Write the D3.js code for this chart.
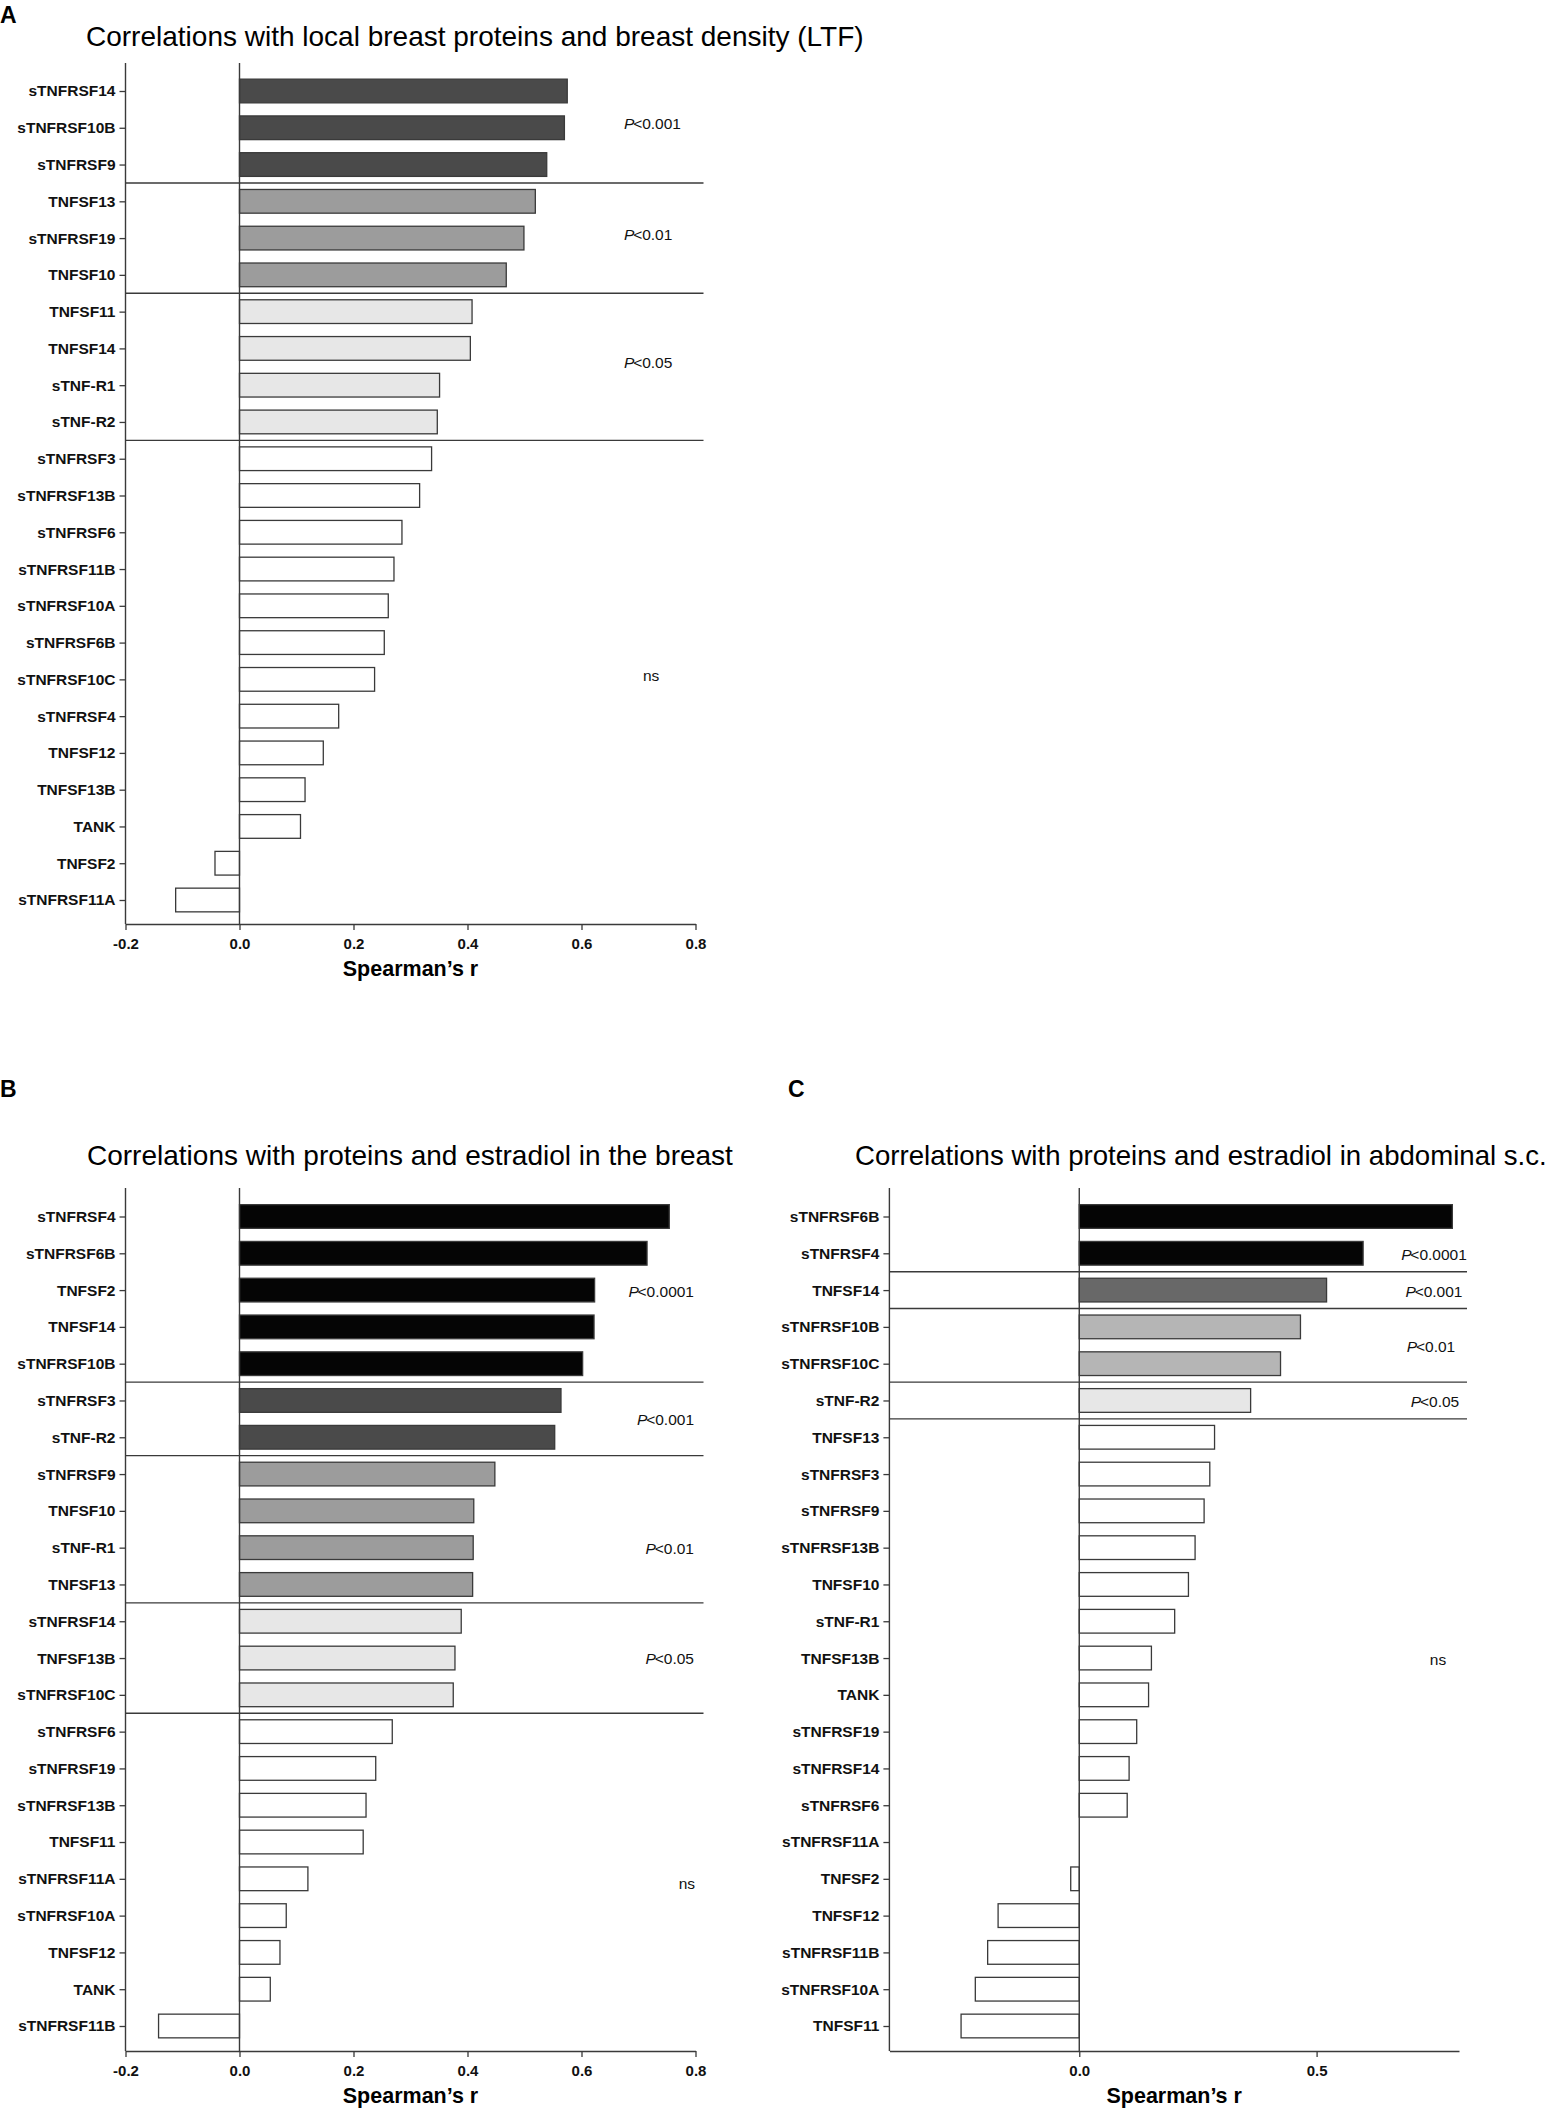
<!DOCTYPE html>
<html>
<head>
<meta charset="utf-8">
<script src="https://cdn.jsdelivr.net/npm/d3@7"></script>
<style>
  body { margin: 0; background: #fff; }
  svg { display: block; font-family: "Liberation Sans", Arial, Helvetica, sans-serif; }
</style>
</head>
<body>
<div id="chart"></div>
<script>
// panel A - local breast proteins vs breast density (LTF)
var namesA = ["sTNFRSF14", "sTNFRSF10B", "sTNFRSF9", "TNFSF13", "sTNFRSF19", "TNFSF10",
    "TNFSF11", "TNFSF14", "sTNF-R1", "sTNF-R2", "sTNFRSF3", "sTNFRSF13B", "sTNFRSF6",
    "sTNFRSF11B", "sTNFRSF10A", "sTNFRSF6B", "sTNFRSF10C", "sTNFRSF4", "TNFSF12",
    "TNFSF13B", "TANK", "TNFSF2", "sTNFRSF11A"];
var valuesA = [0.575, 0.570, 0.539, 0.519, 0.499, 0.468, 0.408, 0.405, 0.351, 0.347,
    0.337, 0.316, 0.285, 0.271, 0.261, 0.254, 0.237, 0.174, 0.147, 0.115, 0.107, -0.043, -0.112];
var groupsA = [3, 3, 4, 13];               // rows per significance group
var fillsA = ["#4a4a4a", "#9c9c9c", "#e7e7e7", "#ffffff"];
var notesA = ["P<0.001", "P<0.01", "P<0.05", "ns"];
var noteRowsA = [1, 4, 7.5, 16];

// panel B - proteins vs estradiol in the breast
var namesB = ["sTNFRSF4", "sTNFRSF6B", "TNFSF2", "TNFSF14", "sTNFRSF10B", "sTNFRSF3",
    "sTNF-R2", "sTNFRSF9", "TNFSF10", "sTNF-R1", "TNFSF13", "sTNFRSF14", "TNFSF13B",
    "sTNFRSF10C", "sTNFRSF6", "sTNFRSF19", "sTNFRSF13B", "TNFSF11", "sTNFRSF11A",
    "sTNFRSF10A", "TNFSF12", "TANK", "sTNFRSF11B"];
var valuesB = [0.754, 0.715, 0.623, 0.622, 0.602, 0.564, 0.553, 0.448, 0.411, 0.410, 0.409,
    0.389, 0.378, 0.375, 0.268, 0.239, 0.222, 0.217, 0.120, 0.082, 0.071, 0.054, -0.142];
var groupsB = [5, 2, 4, 3, 9];
var fillsB = ["#050505", "#4a4a4a", "#9c9c9c", "#e7e7e7", "#ffffff"];
var notesB = ["P<0.0001", "P<0.001", "P<0.01", "P<0.05", "ns"];
var noteRowsB = [2, 5.5, 9, 12, 18.1];

// panel C - proteins vs estradiol in abdominal s.c.
var namesC = ["sTNFRSF6B", "sTNFRSF4", "TNFSF14", "sTNFRSF10B", "sTNFRSF10C", "sTNF-R2",
    "TNFSF13", "sTNFRSF3", "sTNFRSF9", "sTNFRSF13B", "TNFSF10", "sTNF-R1", "TNFSF13B",
    "TANK", "sTNFRSF19", "sTNFRSF14", "sTNFRSF6", "sTNFRSF11A", "TNFSF2", "TNFSF12",
    "sTNFRSF11B", "sTNFRSF10A", "TNFSF11"];
var valuesC = [0.786, 0.598, 0.521, 0.466, 0.424, 0.361, 0.285, 0.275, 0.263, 0.244, 0.230,
    0.201, 0.152, 0.146, 0.121, 0.105, 0.101, 0.0, -0.018, -0.171, -0.193, -0.219, -0.249];
var groupsC = [2, 1, 2, 1, 17];
var fillsC = ["#050505", "#686868", "#b5b5b5", "#e7e7e7", "#ffffff"];
var notesC = ["P<0.0001", "P<0.001", "P<0.01", "P<0.05", "ns"];
var noteRowsC = [1, 2, 3.5, 5, 12];

var ticksAB = [-0.2, 0.0, 0.2, 0.4, 0.6, 0.8];
var tickLabelsAB = ["-0.2", "0.0", "0.2", "0.4", "0.6", "0.8"];
var ticksC = [0.0, 0.5];
var tickLabelsC = ["0.0", "0.5"];

var lineCol = "#3a3a3a";

function drawPanel(svg, p) {
    var g = svg.append("g");

    var x = d3.scaleLinear().domain(p.domain).range([p.left, p.right]);
    var y = d3.scalePoint().domain(p.names).range([p.rowFirst, p.rowLast]);
    var barH = 23.7;

    // which group each row is in
    var rowGroup = [];
    p.groups.forEach(function(n, gi) { for (var k = 0; k < n; k++) rowGroup.push(gi); });

    g.append("text")
        .attr("x", p.letterX).attr("y", p.letterY)
        .attr("font-size", 23).attr("font-weight", "bold")
        .text(p.letter);

    g.append("text")
        .attr("x", p.titleX).attr("y", p.titleY)
        .attr("font-size", p.titleSize)
        .text(p.title);

    // bars
    g.selectAll("rect.bar")
        .data(p.values)
        .enter()
        .append("rect")
        .attr("class", "bar")
        .attr("x", function(d) { return x(Math.min(0, d)); })
        .attr("width", function(d) { return Math.abs(x(d) - x(0)); })
        .attr("y", function(d, i) { return y(p.names[i]) - barH / 2; })
        .attr("height", barH)
        .attr("fill", function(d, i) { return p.fills[rowGroup[i]]; })
        .attr("stroke", function(d) { return d === 0 ? "none" : lineCol; })
        .attr("stroke-width", 1.3);

    // separators between significance groups
    var step = y.step();
    var cum = 0;
    for (var gi = 0; gi < p.groups.length - 1; gi++) {
        cum += p.groups[gi];
        var sy = y(p.names[cum - 1]) + step / 2;
        g.append("line")
            .attr("x1", p.left).attr("x2", p.right + 8)
            .attr("y1", sy).attr("y2", sy)
            .attr("stroke", lineCol).attr("stroke-width", 1.4);
    }

    // zero line + left axis line
    g.append("line")
        .attr("x1", x(0)).attr("x2", x(0))
        .attr("y1", p.top).attr("y2", p.bottom)
        .attr("stroke", lineCol).attr("stroke-width", 1.4);

    var yAxis = g.append("g")
        .attr("transform", "translate(" + p.left + ",0)")
        .call(d3.axisLeft(y).tickSize(6).tickPadding(4));
    yAxis.select(".domain").remove();
    yAxis.selectAll("line").attr("stroke", lineCol).attr("stroke-width", 1.3);
    yAxis.selectAll("text")
        .attr("font-size", 15.5).attr("font-weight", "bold")
        .attr("font-family", "'Liberation Sans', Arial, sans-serif")
        .attr("fill", "#111");
    g.append("line")
        .attr("x1", p.left).attr("x2", p.left)
        .attr("y1", p.top).attr("y2", p.bottom)
        .attr("stroke", lineCol).attr("stroke-width", 1.4);

    // bottom axis
    var xAxis = g.append("g")
        .attr("transform", "translate(0," + p.bottom + ")")
        .call(d3.axisBottom(x)
            .tickValues(p.ticks)
            .tickFormat(function(d, i) { return p.tickLabels[i]; })
            .tickSize(6).tickSizeOuter(0).tickPadding(8));
    xAxis.select(".domain").attr("stroke", lineCol).attr("stroke-width", 1.4);
    xAxis.selectAll("line").attr("stroke", lineCol).attr("stroke-width", 1.3);
    xAxis.selectAll("text")
        .attr("font-size", 15).attr("font-weight", "bold")
        .attr("font-family", "'Liberation Sans', Arial, sans-serif")
        .attr("fill", "#111");

    g.append("text")
        .attr("x", (p.left + p.right) / 2).attr("y", p.bottom + 52)
        .attr("text-anchor", "middle")
        .attr("font-size", 21.5).attr("font-weight", "bold")
        .text("Spearman\u2019s r");

    // significance notes
    p.notes.forEach(function(t, i) {
        var ny = p.rowFirst + p.noteRows[i] * step + p.noteShift;
        var txt = g.append("text")
            .attr("x", p.noteX[i]).attr("y", ny)
            .attr("dy", "0.35em")
            .attr("text-anchor", p.noteAnchor)
            .attr("font-size", 15.5)
            .attr("fill", "#111");
        if (t.charAt(0) === "P") {
            txt.append("tspan").attr("font-style", "italic").text("P");
            txt.append("tspan").attr("dx", -1.2).text(t.slice(1));
        } else {
            txt.text(t);
        }
    });
}

function init() {
    var w = 1554, h = 2110;
    var svg = d3.select("#chart").append("svg")
        .attr("width", w).attr("height", h);

    drawPanel(svg, {
        letter: "A", letterX: 0, letterY: 23,
        title: "Correlations with local breast proteins and breast density (LTF)",
        titleX: 86, titleY: 46, titleSize: 28,
        names: namesA, values: valuesA, groups: groupsA, fills: fillsA,
        notes: notesA, noteRows: noteRowsA,
        domain: [-0.2, 0.8], ticks: ticksAB, tickLabels: tickLabelsAB,
        left: 125.5, right: 695.5, top: 63, bottom: 924, rowFirst: 91, rowLast: 900,
        noteX: [624, 624, 624, 643], noteAnchor: "start", noteShift: -4
    });

    drawPanel(svg, {
        letter: "B", letterX: 0, letterY: 1097,
        title: "Correlations with proteins and estradiol in the breast",
        titleX: 87, titleY: 1165, titleSize: 28,
        names: namesB, values: valuesB, groups: groupsB, fills: fillsB,
        notes: notesB, noteRows: noteRowsB,
        domain: [-0.2, 0.8], ticks: ticksAB, tickLabels: tickLabelsAB,
        left: 125.5, right: 695.5, top: 1188, bottom: 2051, rowFirst: 1216.5, rowLast: 2026,
        noteX: [694, 694, 694, 694, 695], noteAnchor: "end", noteShift: 1
    });

    drawPanel(svg, {
        letter: "C", letterX: 788, letterY: 1097,
        title: "Correlations with proteins and estradiol in abdominal s.c.",
        titleX: 855, titleY: 1165, titleSize: 27.6,
        names: namesC, values: valuesC, groups: groupsC, fills: fillsC,
        notes: notesC, noteRows: noteRowsC,
        domain: [-0.4, 0.8], ticks: ticksC, tickLabels: tickLabelsC,
        left: 889.4, right: 1459, top: 1188, bottom: 2051, rowFirst: 1216.5, rowLast: 2026,
        noteX: [1434, 1434, 1431, 1435, 1438], noteAnchor: "middle", noteShift: 1.5
    });
}
window.onload = init;
</script>
</body>
</html>
